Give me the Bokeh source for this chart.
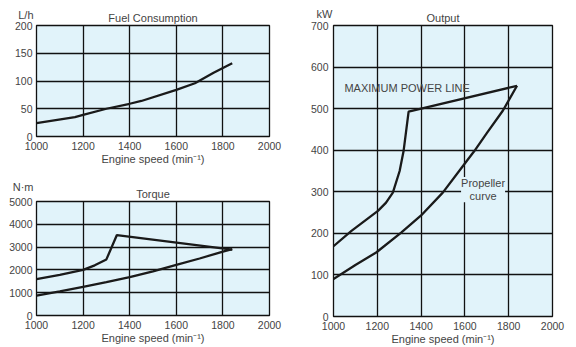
from bokeh.plotting import figure
from bokeh.layouts import row, column
from bokeh.models import Label, Range1d, FixedTicker
from bokeh.embed import file_html
from bokeh.resources import INLINE

# ---------------- data ----------------
speed_ticks = [1000, 1200, 1400, 1600, 1800, 2000]

fuel_speed = [1000, 1165, 1200, 1300, 1400, 1450, 1600, 1680, 1760, 1840]
fuel_lph = [24, 35, 39, 50, 59, 64, 84, 96, 115, 132]

torque_max_speed = [1000, 1100, 1200, 1250, 1300, 1345, 1840]
torque_max = [1600, 1780, 2000, 2200, 2460, 3530, 2890]
torque_prop_speed = [1000, 1100, 1200, 1300, 1400, 1500, 1600, 1700, 1800, 1840]
torque_prop = [870, 1060, 1260, 1460, 1680, 1940, 2220, 2500, 2800, 2910]

power_max_speed = [1000, 1082, 1203, 1240, 1271, 1302, 1320, 1343, 1838]
power_max = [169, 206, 254, 274, 298, 350, 398, 493, 555]
power_prop_speed = [1000, 1100, 1195, 1309, 1400, 1499, 1598, 1643, 1700, 1773, 1838]
power_prop = [90, 124, 154, 202, 243, 298, 367, 398, 441, 495, 555]

# ---------------- style ----------------
BG = "#e1f3fa"
TXT = "#444444"
FONT = "Liberation Sans"
LINE = "#1a1a1a"
GRID = "#111111"


def make(width, height, ymax, ystep, left, right, top, bottom, title, ystand):
    p = figure(width=width, height=height,
               x_range=Range1d(1000, 2000), y_range=Range1d(0, ymax),
               output_backend="svg", toolbar_location=None,
               min_border_left=left, min_border_right=right,
               min_border_top=top, min_border_bottom=bottom)
    p.title.text = title
    p.title.align = "center"
    p.title.text_font = FONT
    p.title.text_font_size = "11px"
    p.title.text_font_style = "normal"
    p.title.text_color = TXT
    p.title.standoff = 3
    p.background_fill_color = BG
    p.border_fill_color = "white"
    p.outline_line_color = GRID
    p.outline_line_width = 1.3
    p.outline_line_alpha = 1.0
    p.xaxis.ticker = FixedTicker(ticks=speed_ticks)
    p.yaxis.ticker = FixedTicker(ticks=list(range(0, ymax + 1, ystep)))
    for ax in (p.xaxis[0], p.yaxis[0]):
        ax.axis_line_color = None
        ax.major_tick_line_color = None
        ax.minor_tick_line_color = None
        ax.major_tick_out = 0
        ax.major_tick_in = 0
        ax.minor_tick_out = 0
        ax.minor_tick_in = 0
        ax.major_label_text_font = FONT
        ax.major_label_text_font_size = "10.5px"
        ax.major_label_text_color = TXT
    p.xaxis.major_label_standoff = 5
    p.yaxis.major_label_standoff = ystand
    p.xaxis.axis_label = "Engine speed (min\u207b\u00b9)"
    p.xaxis.axis_label_text_font = FONT
    p.xaxis.axis_label_text_font_size = "11px"
    p.xaxis.axis_label_text_font_style = "normal"
    p.xaxis.axis_label_text_color = TXT
    p.xaxis.axis_label_standoff = 0
    for g in (p.xgrid[0], p.ygrid[0]):
        g.grid_line_color = GRID
        g.grid_line_width = 1.3
        g.grid_line_alpha = 1.0
    return p


def unit(p, x, y, text, xo, yo):
    # kept in a side panel so it is not clipped to the plot frame
    p.add_layout(Label(x=x, y=y, x_offset=xo, y_offset=yo, text=text,
                       text_align="right", text_baseline="middle",
                       text_font=FONT, text_font_size="11px",
                       text_color=TXT), "right")


# Fuel consumption
p1 = make(290, 170, 200, 50, 36, 20, 25, 34, "Fuel Consumption", 4)
p1.line(fuel_speed, fuel_lph, line_color=LINE, line_width=2.3)
unit(p1, 1000, 200, "L/h", -3, 11)

# Torque
p2 = make(290, 177, 5000, 1000, 36, 20, 31, 32, "Torque", 4)
p2.line(torque_max_speed, torque_max, line_color=LINE, line_width=2.3)
p2.line(torque_prop_speed, torque_prop, line_color=LINE, line_width=2.3)
unit(p2, 1000, 5000, "N\u00b7m", -3, 15)

# Output
p3 = make(286, 347, 700, 100, 43, 24, 25, 31, "Output", 5)
p3.line(power_max_speed, power_max, line_color=LINE, line_width=2.3)
p3.line(power_prop_speed, power_prop, line_color=LINE, line_width=2.3)
unit(p3, 1000, 700, "kW", -1, 12)
p3.add_layout(Label(x=1050, y=550, text="MAXIMUM POWER LINE",
                    text_align="left", text_baseline="middle",
                    text_font=FONT, text_font_size="11px", text_color=TXT))
p3.add_layout(Label(x=1683, y=305, text="Propeller\ncurve",
                    text_align="center", text_baseline="middle",
                    text_font=FONT, text_font_size="11px", text_color=TXT,
                    background_fill_color=BG, text_line_height=1.1))

layout = row(column(p1, p2), p3)
open("out.html", "w").write(file_html(layout, INLINE))
